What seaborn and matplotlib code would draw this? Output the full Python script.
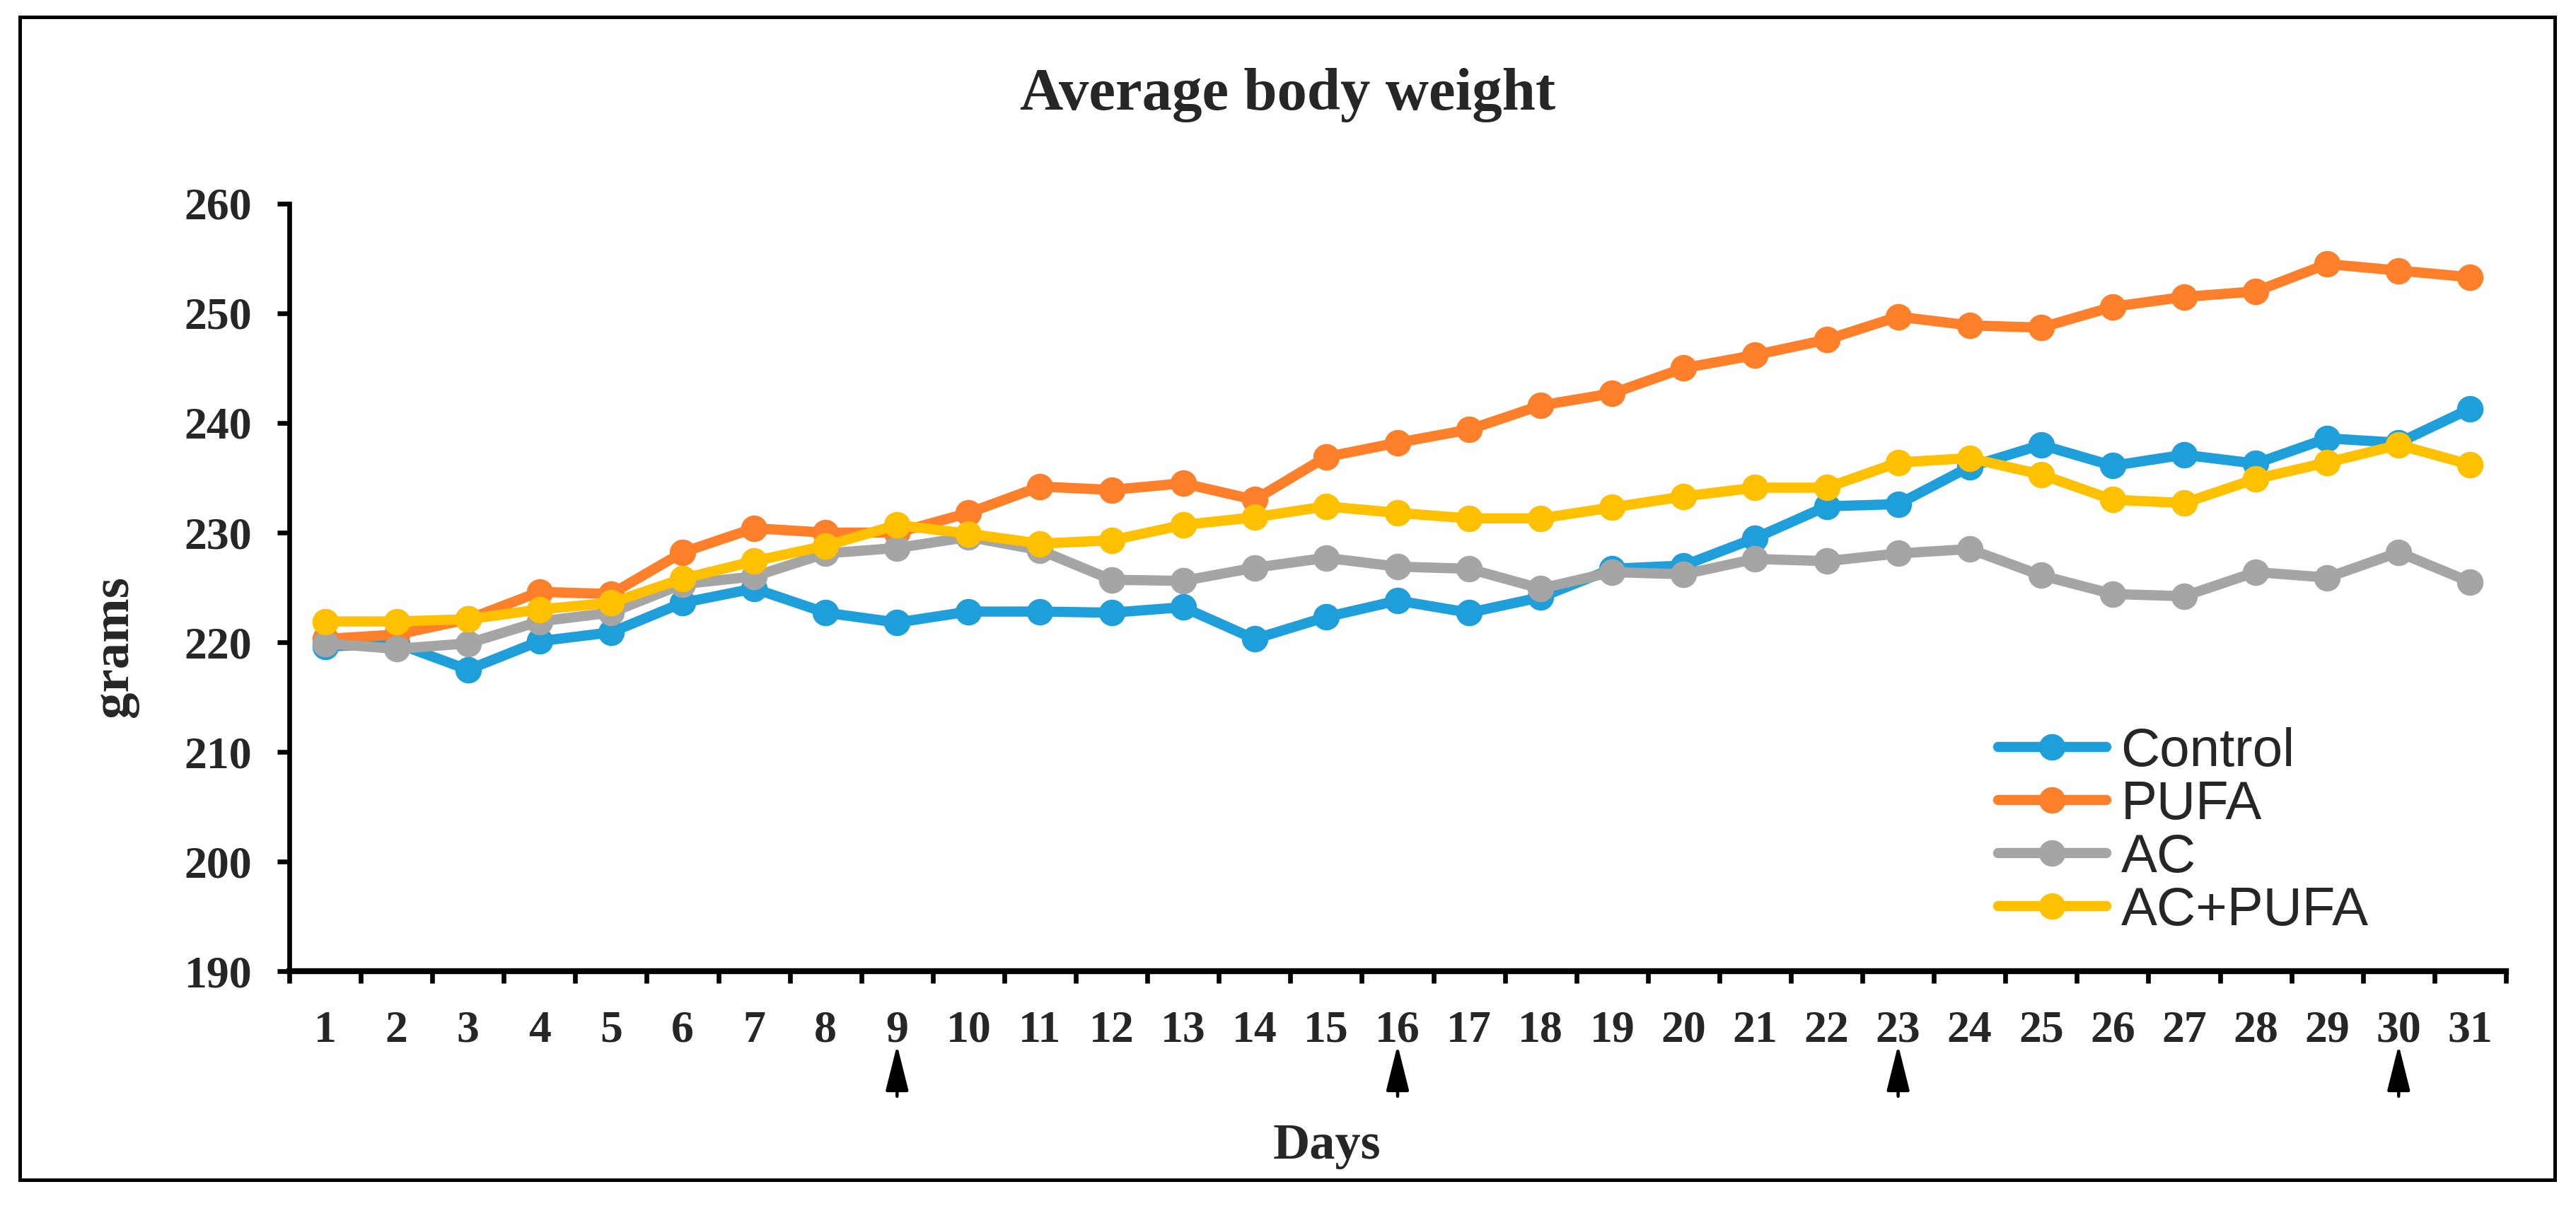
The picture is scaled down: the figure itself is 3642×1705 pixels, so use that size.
import matplotlib
matplotlib.use('Agg')
import matplotlib.pyplot as plt
from matplotlib.patches import Rectangle
import numpy as np
import pandas as pd
import seaborn as sns


# DATA

days = list(range(1, 32))
groups = ['Control', 'PUFA', 'AC', 'AC+PUFA']

control = [219.6, 219.9, 217.5, 220.1, 220.9, 223.6, 224.9, 222.7, 221.8, 222.8,
           222.8, 222.7, 223.2, 220.3, 222.3, 223.8, 222.7, 224.1, 226.7, 227.0,
           229.5, 232.4, 232.6, 236.0, 238.0, 236.1, 237.1, 236.3, 238.6, 238.2,
           241.3]
pufa = [220.3, 220.7, 222.1, 224.6, 224.4, 228.2, 230.4, 230.0, 230.0, 231.8,
        234.2, 233.9, 234.5, 233.0, 236.9, 238.2, 239.4, 241.6, 242.7, 245.0,
        246.2, 247.6, 249.7, 248.9, 248.7, 250.6, 251.5, 252.0, 254.5, 253.9,
        253.3]
ac = [219.9, 219.4, 219.9, 221.9, 222.7, 225.3, 226.0, 228.1, 228.6, 229.6,
      228.4, 225.7, 225.6, 226.8, 227.7, 226.9, 226.7, 224.9, 226.4, 226.2,
      227.6, 227.4, 228.1, 228.5, 226.1, 224.4, 224.2, 226.4, 225.9, 228.2,
      225.5]
ac_pufa = [221.9, 221.9, 222.1, 223.0, 223.6, 225.8, 227.4, 228.8, 230.7, 229.9,
           229.0, 229.3, 230.7, 231.4, 232.4, 231.8, 231.3, 231.3, 232.3, 233.3,
           234.1, 234.1, 236.4, 236.8, 235.3, 233.0, 232.7, 234.9, 236.4, 238.0,
           236.2]

y_ticks = [190, 200, 210, 220, 230, 240, 250, 260]
arrow_days = [9, 16, 23, 30]

colors = ['#1F9FDA', '#FE7F2A', '#A5A5A5', '#FFC000']

data = pd.DataFrame({'Day': days, 'Control': control, 'PUFA': pufa,
                     'AC': ac, 'AC+PUFA': ac_pufa})
long_data = data.melt(id_vars='Day', var_name='Group', value_name='Weight')


# PLOT

sns.set_style('white')
serif = ['Liberation Serif', 'DejaVu Serif']
sans = ['Liberation Sans', 'DejaVu Sans']
plt.rcParams['font.family'] = serif

fig = plt.figure(figsize=(18.21, 8.525), dpi=200)
ax = fig.add_axes([0.1123, 0.1947, 0.8605, 0.6364])

sns.lineplot(data=long_data, x='Day', y='Weight', hue='Group', hue_order=groups,
             palette=colors, marker='o', markersize=13.5, markeredgewidth=0,
             linewidth=5.2, legend=False, ax=ax)

ax.set_xlim(0.5, 31.5)
ax.set_ylim(190, 260)

# spines
for side in ['top', 'right']:
    ax.spines[side].set_visible(False)
ax.spines['left'].set_linewidth(2.4)
ax.spines['bottom'].set_linewidth(3)
ax.spines['left'].set_color('black')
ax.spines['bottom'].set_color('black')

# y axis
ax.set_yticks(y_ticks)
ax.set_yticklabels([str(v) for v in y_ticks], fontsize=23, fontweight='bold')
ax.tick_params(axis='y', which='major', direction='out', length=6, width=2.4,
               pad=13, left=True, color='black')

# x axis: labels centred, tick marks between categories
ax.set_xticks(days)
ax.set_xticklabels([str(d) for d in days], fontsize=23, fontweight='bold')
ax.set_xticks(np.arange(0.5, 32, 1), minor=True)
ax.tick_params(axis='x', which='major', length=0, pad=20)
ax.tick_params(axis='x', which='minor', direction='out', length=6, width=2.4,
               bottom=True, color='black')

ax.set_xlabel('Days', fontsize=26, fontweight='bold', va='top')
ax.xaxis.set_label_coords(0.468, -0.198)
ax.set_ylabel('grams', fontsize=27, fontweight='bold')
ax.yaxis.set_label_coords(-0.068, 0.423)

# arrows under selected days
for d in arrow_days:
    ax.annotate('', xy=(d, -0.096), xytext=(d, -0.163),
                xycoords=('data', 'axes fraction'),
                textcoords=('data', 'axes fraction'),
                arrowprops=dict(arrowstyle='-|>,head_length=2.0,head_width=0.5',
                                lw=1.6, color='black', shrinkA=0, shrinkB=0),
                annotation_clip=False)

# legend
handles = ax.get_lines()[:4]
fig.legend(handles, groups, loc='upper left', bbox_to_anchor=(0.7757, 0.397),
           bbox_transform=fig.transFigure, frameon=False, numpoints=1,
           handlelength=2.0, handletextpad=0.27, labelspacing=0.05,
           borderpad=0, borderaxespad=0,
           prop={'family': sans, 'size': 27.5})

# title
fig.text(0.5, 0.909, 'Average body weight', ha='center', va='baseline',
         fontsize=30.5, fontweight='bold')

# outer frame
fig.patches.append(Rectangle((0.0077, 0.0217), 0.9841, 0.9642,
                             transform=fig.transFigure, fill=False,
                             edgecolor='black', linewidth=1.8))

fig.savefig('out.png', dpi=200)
